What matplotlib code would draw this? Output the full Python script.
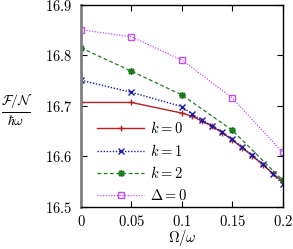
import matplotlib
matplotlib.use("Agg")
import matplotlib.pyplot as plt

plt.rcParams['mathtext.fontset'] = 'cm'
plt.rcParams['font.family'] = ['DejaVu Serif']

x_dense = [0, 0.05, 0.1, 0.11, 0.12, 0.13, 0.14, 0.15, 0.16, 0.17, 0.18, 0.19, 0.2]
k0 = [16.707, 16.707, 16.686, 16.680, 16.670, 16.660, 16.647, 16.633, 16.617,
      16.601, 16.584, 16.567, 16.550]
k1 = [16.751, 16.727, 16.699, 16.684, 16.672, 16.661, 16.648, 16.634, 16.618,
      16.602, 16.585, 16.566, 16.545]
x_coarse = [0, 0.05, 0.1, 0.15, 0.2]
k2 = [16.815, 16.769, 16.722, 16.652, 16.553]
d0 = [16.851, 16.837, 16.791, 16.716, 16.608]

xticks = [0, 0.05, 0.1, 0.15, 0.2]
xticklabels = ['0', '0.05', '0.1', '0.15', '0.2']
yticks = [16.5, 16.6, 16.7, 16.8, 16.9]
yticklabels = ['16.5', '16.6', '16.7', '16.8', '16.9']

fig = plt.figure(figsize=(2.93, 2.49), dpi=100)
ax = fig.add_axes([81/293, 1-207/249, (282.7-81)/293, (207-5)/249])

ax.plot(x_dense, k0, color='#b22222', lw=1.0, ls='-', marker='+', ms=5, mew=1.0, label='$k = 0$')
ax.plot(x_dense, k1, color='#1a1aa8', lw=1.0, ls=(0, (1, 1.2)), marker='x', ms=4, mew=1.0, label='$k = 1$')
ax.plot(x_coarse, k2, color='#1f7a1f', lw=0.9, ls=(0, (3, 2)), marker=(8, 2, 0), ms=5, mew=1.0, label='$k = 2$')
ax.plot(x_coarse, d0, color='#c050f0', lw=0.9, ls=(0, (1, 1.2)), marker='s', ms=5, mfc='none', mew=1.0, label=r'$\Delta = 0$')

ax.set_xlim(0, 0.2)
ax.set_ylim(16.5, 16.9)
ax.set_xticks(xticks)
ax.set_xticklabels(['$%s$' % t for t in xticklabels])
ax.set_yticks(yticks)
ax.set_yticklabels(['$%s$' % t for t in yticklabels])
ax.tick_params(direction='in', length=4, width=0.8, top=True, right=True, labelsize=10.5)
ax.tick_params(axis='y', pad=6)
ax.tick_params(axis='x', pad=5)

for s in ['top', 'right', 'bottom']:
    ax.spines[s].set_linewidth(1.0)
    ax.spines[s].set_color('black')
ax.spines['left'].set_color('#808080')
ax.spines['left'].set_linewidth(2.0)

fig.text(182/293, 1-238/249, r'$\Omega/\omega$', fontsize=10.5, ha='center', va='center')
fig.text(17/293, 1-110/249, r'$\frac{\mathcal{F}/\mathcal{N}}{\hbar\omega}$', fontsize=14,
         ha='center', va='center')

leg = ax.legend(loc='lower left', bbox_to_anchor=(0.03, -0.03), frameon=False, fontsize=10.5,
                handlelength=3.2, handletextpad=0.4, labelspacing=0.45, borderaxespad=0.3)

fig.savefig('out.png', dpi=100)
